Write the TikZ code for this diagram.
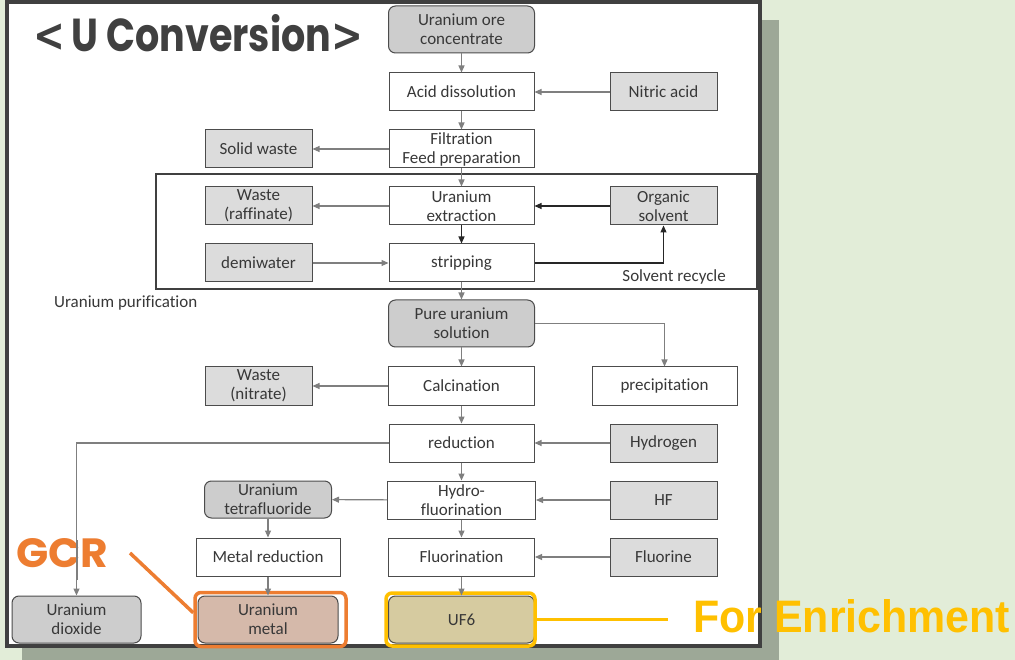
\documentclass[tikz,border=0pt]{standalone}
\usepackage{fontspec}
\usepackage{graphicx}
\setmainfont{Carlito}[Ligatures=NoCommon]
\newfontfamily\titlefont{Poppins}
\newfontfamily\symfont{DejaVu Sans}
\newfontfamily\labelfont{Liberation Sans}
\usetikzlibrary{arrows.meta}
\definecolor{bgcol}{HTML}{E2EDD8}
\definecolor{shadowcol}{HTML}{9DA897}
\definecolor{framecol}{HTML}{404040}
\definecolor{linecol}{HTML}{7F7F7F}
\definecolor{txtcol}{HTML}{383838}
\definecolor{darkfill}{HTML}{CDCDCD}
\definecolor{lightfill}{HTML}{DCDCDC}
\definecolor{metalfill}{HTML}{D5B9AA}
\definecolor{uffill}{HTML}{D6CBA0}
\definecolor{gcrcol}{HTML}{ED7D31}
\definecolor{enrcol}{HTML}{FFC000}
\tikzset{
  box/.style={draw=black!70, line width=1pt, minimum height=38pt, inner sep=0pt,
    align=center, text=txtcol, font=\fontsize{17}{19}\selectfont, fill=white},
  product/.style={box, fill=darkfill, rounded corners=7pt, minimum height=47pt},
  reagent/.style={box, fill=lightfill},
  flow/.style={draw=linecol, line width=1.1pt, -{Triangle[length=7pt,width=6pt]}},
  darkflow/.style={draw=black!85, line width=1.1pt, -{Triangle[length=7pt,width=6pt]}},
  highlight/.style={rounded corners=6pt, line width=3.5pt, inner sep=0pt, fill=none},
  note/.style={inner sep=0pt, text=txtcol, font=\fontsize{17}{17}\selectfont}
}
\begin{document}
\begin{tikzpicture}[x=1pt,y=-1pt]
\useasboundingbox (0,0) rectangle (1015,660);
% page background, drop shadow and sheet
\fill[bgcol] (0,0) rectangle (1015,660);
\fill[shadowcol] (22,20) rectangle (779,660);
\draw[framecol, line width=4pt, fill=white] (7,2) rectangle (760,646);

% title
\node[anchor=base west, inner sep=0pt, text=framecol] (title) at (33,52)
  {\resizebox{330pt}{37pt}{{\symfont\bfseries <}\titlefont\bfseries\,U Conversion{\symfont\bfseries >}}};

% purification group frame
\draw[framecol, line width=2.4pt] (156,174) rectangle (757,289);
\node[note, anchor=west] (purlabel) at (54,303) {Uranium purification};
\node[note, anchor=east] (recycle) at (726,277) {Solvent recycle};

% process column
\node[product, minimum width=146pt] (ore) at (461.5,29.5) {Uranium ore\\concentrate};
\node[box, minimum width=145pt] (acid) at (461.5,92) {Acid dissolution};
\node[box, minimum width=145pt] (filt) at (461.5,149) {Filtration\\Feed preparation};
\node[box, minimum width=145pt] (extr) at (461.5,206) {Uranium\\extraction};
\node[box, minimum width=145pt] (strip) at (461.5,263) {stripping};
\node[product, minimum width=146pt] (pure) at (461.5,323.5) {Pure uranium\\solution};
\node[box, minimum width=146pt] (calc) at (461.5,386) {Calcination};
\node[box, minimum width=145pt] (red) at (461.5,443) {reduction};
\node[box, minimum width=148pt] (hydro) at (461.5,500) {Hydro-\\fluorination};
\node[box, minimum width=146pt] (fluor) at (461.5,557) {Fluorination};
\node[product, fill=uffill, minimum width=146pt] (uf6) at (461.5,619.5) {UF6};

% reagents on the right
\node[reagent, minimum width=107pt] (nitric) at (663.5,92) {Nitric acid};
\node[reagent, minimum width=107pt] (org) at (663.5,206) {Organic\\solvent};
\node[box, minimum width=145pt] (precip) at (664.5,386) {precipitation};
\node[reagent, minimum width=107pt] (hyd) at (663.5,443) {Hydrogen};
\node[reagent, minimum width=107pt] (hf) at (663.5,500) {HF};
\node[reagent, minimum width=107pt] (fluorine) at (663.5,557) {Fluorine};

% wastes and side streams on the left
\node[reagent, minimum width=107pt] (solid) at (258.5,149) {Solid waste};
\node[reagent, minimum width=107pt] (raff) at (258.5,206) {Waste\\(raffinate)};
\node[reagent, minimum width=107pt] (demi) at (258.5,263) {demiwater};
\node[reagent, minimum width=107pt] (wnit) at (258.5,386) {Waste\\(nitrate)};
\node[product, minimum width=127pt, minimum height=37pt] (tetra) at (268,499.5) {Uranium\\tetrafluoride};
\node[box, minimum width=144pt] (metred) at (268,557) {Metal reduction};
\node[product, fill=metalfill, minimum width=140pt] (metal) at (268,619.5) {Uranium\\metal};
\node[product, minimum width=129pt] (dioxide) at (76.5,619.5) {Uranium\\dioxide};

% product highlights
\node[highlight, draw=gcrcol, minimum width=151pt, minimum height=54pt] (metalhl) at (270.5,619.5) {};
\node[highlight, draw=enrcol, minimum width=149pt, minimum height=53pt] (uf6hl) at (460.5,619.5) {};

% main flow
\draw[flow] (ore) -- (acid);
\draw[flow] (acid) -- (filt);
\draw[flow] (filt) -- (extr);
\draw[darkflow] (extr) -- (strip);
\draw[flow] (strip) -- (pure);
\draw[flow] (pure) -- (calc);
\draw[flow] (calc) -- (red);
\draw[flow] (red) -- (hydro);
\draw[flow] (hydro) -- (fluor);
\draw[flow] (fluor) -- (uf6);

% feeds
\draw[flow] (nitric) -- (acid);
\draw[darkflow] (org) -- (extr);
\draw[flow] (demi) -- (strip);
\draw[darkflow] (strip.east) -| (org.south);
\draw[flow] (hyd) -- (red);
\draw[flow] (hf) -- (hydro);
\draw[flow] (fluorine) -- (fluor);

% outputs
\draw[flow] (filt) -- (solid);
\draw[flow] (extr) -- (raff);
\draw[flow] (calc) -- (wnit);
\draw[flow] (pure.east) -| (precip.north);
\draw[flow] (red.west) -| (dioxide.north);
\draw[flow] (hydro) -- (tetra);
\draw[flow] (tetra) -- (metred);
\draw[flow] (metred) -- (metal);

% callouts
\node[anchor=base west, inner sep=0pt, text=gcrcol] (gcr) at (16,567)
  {\resizebox{92pt}{29pt}{\titlefont\bfseries GCR}};
\coordinate (gcrstart) at (130,553);
\draw[gcrcol, line width=3.5pt] (gcrstart) -- (metalhl.175);
\draw[linecol, line width=1.1pt] (77,540) -- (77,580);
\node[anchor=base west, inner sep=0pt, text=enrcol] (enr) at (693,632)
  {\resizebox{317pt}{33pt}{\labelfont\bfseries For Enrichment}};
\coordinate (enrend) at (668,619.5);
\draw[enrcol, line width=3.5pt] (uf6hl.east) -- (enrend);
\end{tikzpicture}
\end{document}
